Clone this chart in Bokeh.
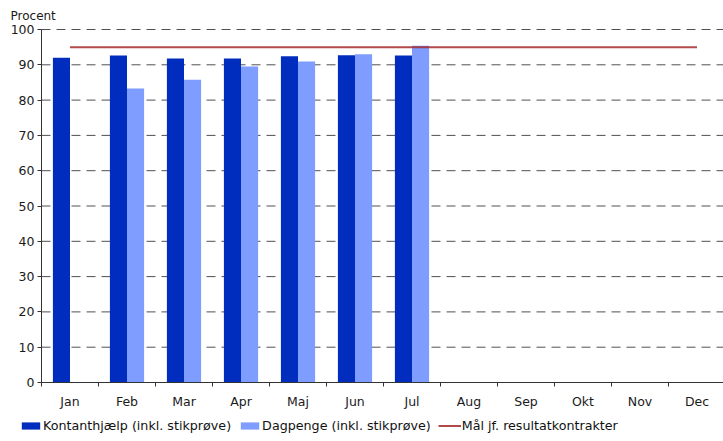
from bokeh.plotting import figure
from bokeh.models import (Range1d, FixedTicker, Legend, LegendItem, Label,
                          ColumnDataSource)
from bokeh.embed import file_html
from bokeh.resources import INLINE
import numpy as np

months = ["Jan", "Feb", "Mar", "Apr", "Maj", "Jun", "Jul",
          "Aug", "Sep", "Okt", "Nov", "Dec"]
kontant = [92.0, 92.6, 91.8, 91.8, 92.4, 92.7, 92.6]
dagpenge = [None, 83.3, 85.8, 89.5, 90.9, 93.0, 95.4]
maal = [95] * 12
y_ticks = [0, 10, 20, 30, 40, 50, 60, 70, 80, 90, 100]

FONT = "DejaVu Sans"
DARK = "#002DBE"
LIGHT = "#7F9CFF"
RED = "#A52A2A"

W, H = 723, 441
PX_X = 57.0          # pixels per month
PX_Y = 3.53          # pixels per percent
LEFT, TOP = 41, 29   # frame position of (0, 100)

x_start = -LEFT / PX_X
x_end = (W - LEFT) / PX_X
y_end = 100 + TOP / PX_Y
y_start = 100 - (H - TOP) / PX_Y

centers = np.arange(len(months)) + 0.5

p = figure(width=W, height=H, output_backend="svg", toolbar_location=None,
           x_range=Range1d(x_start, x_end), y_range=Range1d(y_start, y_end),
           min_border=0)
p.outline_line_color = None
p.background_fill_color = "white"
p.xgrid.visible = False
p.ygrid.visible = False

# dashed grid lines from the y ticks
grid_y = y_ticks[1:]
p.segment(x0=[0] * len(grid_y), x1=[x_end] * len(grid_y), y0=grid_y, y1=grid_y,
          line_color="#505050", line_width=1, line_dash="9 6")

bw = 0.3
src_k = ColumnDataSource(dict(x=centers[:len(kontant)] - bw / 2, top=kontant))
dx = [c + bw / 2 for c, v in zip(centers, dagpenge) if v is not None]
dv = [v for v in dagpenge if v is not None]
src_d = ColumnDataSource(dict(x=dx, top=dv))

r_k = p.vbar(x="x", top="top", width=bw, bottom=0, source=src_k,
             fill_color=DARK, line_color=None)
r_d = p.vbar(x="x", top="top", width=bw, bottom=0, source=src_d,
             fill_color=LIGHT, line_color=None)
r_m = p.line(x=centers, y=maal, line_color=RED, line_width=2, line_alpha=0.85)

# axes
xa = p.xaxis[0]
xa.fixed_location = 0
xa.bounds = (0, x_end)
xa.ticker = FixedTicker(ticks=list(centers),
                        minor_ticks=list(range(0, len(months) + 1)))
xa.major_label_overrides = {float(c): m for c, m in zip(centers, months)}
xa.major_tick_out = 0
xa.major_tick_in = 0
xa.minor_tick_out = 4
xa.minor_tick_in = 0
xa.minor_tick_line_color = "#333333"
xa.axis_line_color = "#333333"
xa.major_label_standoff = 7
xa.major_label_text_font = FONT
xa.major_label_text_font_size = "12.5px"
xa.major_label_text_color = "#1a1a1a"

ya = p.yaxis[0]
ya.fixed_location = 0
ya.bounds = (0, 100)
ya.ticker = FixedTicker(ticks=y_ticks, minor_ticks=[])
ya.major_tick_out = 4
ya.major_tick_in = 0
ya.major_tick_line_color = "#333333"
ya.axis_line_color = "#333333"
ya.major_label_standoff = 3
ya.major_label_text_font = FONT
ya.major_label_text_font_size = "12.5px"
ya.major_label_text_color = "#1a1a1a"

legend = Legend(items=[
    LegendItem(label="Kontanthjælp (inkl. stikprøve)", renderers=[r_k]),
    LegendItem(label="Dagpenge (inkl. stikprøve)", renderers=[r_d]),
    LegendItem(label="Mål jf. resultatkontrakter", renderers=[r_m]),
], orientation="horizontal", location=(19, 8), padding=0, margin=0,
    glyph_width=23, glyph_height=9, label_standoff=1, spacing=7,
    label_text_font=FONT, label_text_font_size="12.7px",
    label_text_color="#111111",
    border_line_alpha=0, background_fill_alpha=0)
p.add_layout(legend, "center")

p.add_layout(Label(x=(10 - LEFT) / PX_X, y=100 + (TOP - 15) / PX_Y,
                   text="Procent", text_font=FONT, text_font_size="12px",
                   text_baseline="alphabetic", text_color="#1a1a1a"))

open("out.html", "w").write(file_html(p, INLINE))
